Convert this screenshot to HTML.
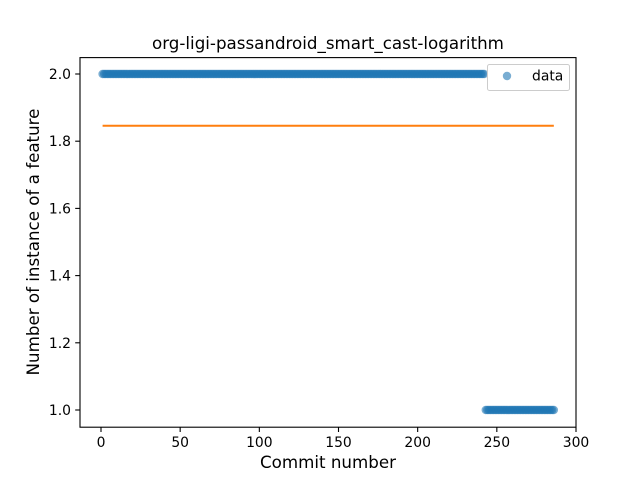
<!DOCTYPE html>
<html><head><meta charset="utf-8"><style>body{margin:0;background:#fff}svg{display:block;font-family:"DejaVu Sans","Liberation Sans",sans-serif}</style></head>
<body>
<svg id="chart" width="640" height="480">
<rect width="640" height="480" fill="#fff"/>
<text x="328" y="49" font-size="16.7" text-anchor="middle">org-ligi-passandroid_smart_cast-logarithm</text>
<g id="marks"></g>
<rect x="80" y="57.6" width="496" height="369.6" fill="none" stroke="#000" stroke-width="1.1"/>
<g id="axes" font-size="13.9"></g>
<text x="328" y="468" font-size="16.7" text-anchor="middle">Commit number</text>
<text transform="translate(39,242) rotate(-90)" font-size="16.7" text-anchor="middle">Number of instance of a feature</text>
<g>
<rect x="487.5" y="64.5" width="82" height="26" rx="2" fill="#fff" stroke="#ccc"/>
<circle cx="507" cy="76" r="4.2" fill="#1f77b4" fill-opacity="0.6"/>
<text x="532" y="80.5" font-size="13.9">data</text>
</g>
</svg>
<script>
const runCounts = [242, 44];
const runValues = [2, 1];
const xTicks = [0, 50, 100, 150, 200, 250, 300];
const yTicks = [1.0, 1.2, 1.4, 1.6, 1.8, 2.0];
const yTickLabels = ["1.0", "1.2", "1.4", "1.6", "1.8", "2.0"];

const NS = "http://www.w3.org/2000/svg";
const x = v => 101 + (v - 0) * (475 / 300);
const y = v => 410 - (v - 1) * 336;
function mk(tag, attrs, parent) { const e = document.createElementNS(NS, tag); for (const k in attrs) e.setAttribute(k, attrs[k]); parent.appendChild(e); return e; }

const marks = document.getElementById('marks');
const axes = document.getElementById('axes');
const values = [];
runCounts.forEach((c, i) => { for (let j = 0; j < c; j++) values.push(runValues[i]); });
values.forEach((v, i) => {
  const c = mk('circle', { cx: x(i + 1), cy: y(v), r: 4.2, fill: '#1f77b4', 'fill-opacity': 0.6 }, marks);
  
  
});
const mean = values.reduce((a, b) => a + b, 0) / values.length;
const ml = mk('line', { x1: x(1), x2: x(values.length), y1: y(mean), y2: y(mean), stroke: '#ff7f0e', 'stroke-width': 2 }, marks);



xTicks.forEach(t => {
  const l = mk('line', { x1: x(t), x2: x(t), y1: 427.2, y2: 432, stroke: '#000', 'stroke-width': 1.1 }, axes);
  
  
  const tx = mk('text', { x: x(t), y: 447, 'text-anchor': 'middle' }, axes);
  tx.textContent = t;
  
  
});
yTicks.forEach((t, i) => {
  const l = mk('line', { x1: 75.2, x2: 80, y1: y(t), y2: y(t), stroke: '#000', 'stroke-width': 1.1 }, axes);
  
  
  const tx = mk('text', { x: 71, y: y(t) + 5, 'text-anchor': 'end' }, axes);
  tx.textContent = yTickLabels[i];
  
  
});
</script>
</body></html>
